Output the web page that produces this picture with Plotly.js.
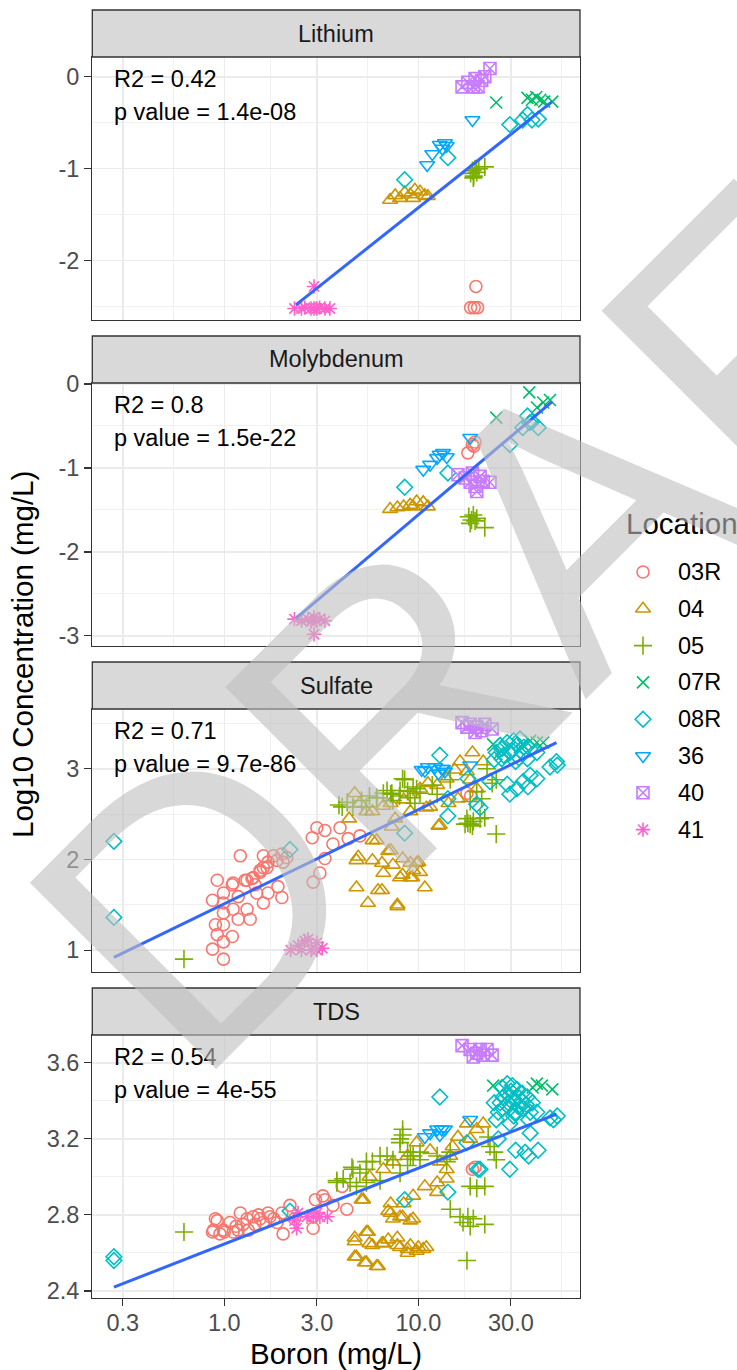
<!DOCTYPE html>
<html><head><meta charset="utf-8">
<script src="https://cdn.plot.ly/plotly-3.0.1.min.js"></script>
<style>html,body{margin:0;padding:0;background:#fff}#chart{width:737px;height:1370px}</style>
</head><body><div id="chart"></div>
<script>
// ---------- categories / labels ----------
const locations = ['03R','04','05','07R','08R','36','40','41'];
const panels = ['Lithium','Molybdenum','Sulfate','TDS'];
const r2Labels = ['R2 = 0.42','R2 = 0.8','R2 = 0.71','R2 = 0.54'];
const pLabels = ['p value = 1.4e-08','p value = 1.5e-22','p value = 9.7e-86','p value = 4e-55'];
const xTickVals = [0.3, 1, 3, 10, 30];
const xTickText = ['0.3','1.0','3.0','10.0','30.0'];
const xMinorVals = [0.5477, 1.732, 5.477, 17.32, 54.77];
const yTickVals = [[-2,-1,0],[-3,-2,-1,0],[1,2,3],[2.4,2.8,3.2,3.6]];
const yTickText = [['-2','-1','0'],['-3','-2','-1','0'],['1','2','3'],['2.4','2.8','3.2','3.6']];
const yMinorVals = [[-2.5,-1.5,-0.5],[-2.5,-1.5,-0.5],[1.5,2.5,3.5],[2.6,3.0,3.4]];
const yRanges = [[-2.645,0.215],[-3.12,0.012],[0.758,3.66],[2.363,3.746]];

// ---------- Lithium ----------
const li_03R_x = [19.8,18.6,19.4,20.2];
const li_03R_y = [-2.28,-2.51,-2.51,-2.51];
const li_04_x = [7.15,7.6,8.05,8.5,9.07,9.4,9.6,10.2,10.8,11.2];
const li_04_y = [-1.34,-1.29,-1.32,-1.26,-1.28,-1.32,-1.23,-1.25,-1.29,-1.30];
const li_05_x = [18.6,19.0,19.3,19.6,20.0,19.2,22.0,20.5];
const li_05_y = [-1.05,-1.02,-1.08,-1.0,-1.04,-1.1,-0.98,-1.0];
const li_07R_x = [25.2,36.5,38.5,40.5,42.5,44.5,49.0];
const li_07R_y = [-0.28,-0.23,-0.25,-0.22,-0.25,-0.27,-0.27];
const li_08R_x = [8.5,14.2,29.6,34.5,36.5,38.5,41.5];
const li_08R_y = [-1.12,-0.88,-0.52,-0.47,-0.41,-0.47,-0.46];
const li_36_x = [11.1,11.8,12.9,13.3,13.7,14.0,19.0];
const li_36_y = [-0.96,-0.84,-0.74,-0.78,-0.72,-0.75,-0.47];
const li_40_x = [16.8,18.0,19.6,21.2,22.0,20.3,23.4,19.2];
const li_40_y = [-0.11,-0.06,-0.02,-0.04,0.0,-0.11,0.09,-0.11];
const li_41_x = [2.3,2.5,2.6,2.8,2.9,3.0,3.1,3.3,3.5,2.9];
const li_41_y = [-2.52,-2.52,-2.51,-2.52,-2.52,-2.52,-2.51,-2.52,-2.52,-2.28];
const li_fit_x = [2.34,48.9];
const li_fit_y = [-2.48,-0.27];

// ---------- Molybdenum ----------
const mo_03R_x = [18.0,19.0,19.6,19.3];
const mo_03R_y = [-0.82,-0.72,-0.69,-0.74];
const mo_04_x = [7.15,7.8,8.4,9.07,9.4,9.8,10.6,11.2];
const mo_04_y = [-1.49,-1.47,-1.46,-1.44,-1.46,-1.40,-1.41,-1.46];
const mo_05_x = [18.2,18.8,19.2,19.6,18.5,20.0,22.0];
const mo_05_y = [-1.58,-1.62,-1.56,-1.63,-1.66,-1.60,-1.71];
const mo_07R_x = [25.2,37.3,40.9,44.0,47.7];
const mo_07R_y = [-0.40,-0.10,-0.28,-0.22,-0.19];
const mo_08R_x = [8.5,14.2,29.6,34.5,36.5,37.5,38.5,41.5];
const mo_08R_y = [-1.23,-1.06,-0.72,-0.52,-0.38,-0.46,-0.45,-0.52];
const mo_36_x = [10.6,11.5,12.5,12.9,13.4,14.0,18.5];
const mo_36_y = [-1.02,-0.96,-0.88,-0.84,-0.82,-0.87,-0.64];
const mo_40_x = [16.0,17.4,18.5,19.0,19.6,20.0,20.8,21.6,23.4];
const mo_40_y = [-1.08,-1.12,-1.17,-1.06,-1.22,-1.28,-1.10,-1.16,-1.17];
const mo_41_x = [2.3,2.5,2.7,2.8,2.9,3.0,3.1,3.3,2.9];
const mo_41_y = [-2.80,-2.82,-2.80,-2.83,-2.78,-2.82,-2.80,-2.82,-2.98];
const mo_fit_x = [2.34,48.9];
const mo_fit_y = [-2.79,-0.21];

// ---------- Sulfate ----------
const su_03R_x = [0.87,0.99,0.92,0.99,1.10,0.90,0.99,0.99,1.18,1.36,0.87,0.92,0.99,0.99,1.10,1.18,1.31,1.11,1.21,1.28,1.39,1.44,1.53,1.59,1.68,1.59,1.79,1.98,1.87,2.01,1.59,1.68,1.47,1.89,1.98,2.87,3.11,3.3,2.84,3.0,3.3,3.63,3.95,4.35,5.0,1.11,1.31,1.41,1.53,1.66,2.1,17.8,18.6];
const su_03R_y = [1.01,0.90,1.17,1.09,1.15,1.28,1.28,1.41,1.34,1.34,1.55,1.77,1.63,1.52,1.72,1.59,1.45,1.45,2.04,1.77,1.79,1.72,1.86,1.91,1.97,2.04,2.04,2.06,1.99,1.97,1.52,1.63,1.63,1.70,1.58,1.75,1.85,2.01,2.24,2.35,2.32,2.17,2.35,2.23,2.26,1.74,1.77,1.8,1.88,1.91,2.02,2.73,2.70];
const su_04_x = [4.8,5.8,4.8,6.2,5.5,7.8,10.8,6.6,7.2,5.8,9.1,10,8.05,9.1,7.4,9.4,10.2,7.0,4.9,8.3,6.5,9.3,7.8,6.5,8.3,6.1,9.8,
                 19,21.6,16.4,15.4,17.8,14,12.5,11.2,10.2,9.4,8.4,7.2,6.6,5.8,9.1,11.0,12.7,14.3,16,20,18.5,7.6,4.7,5.4,7.3,12.9,11.5,4.4,5.0];
const su_04_y = [1.99,1.99,1.69,1.66,1.52,1.50,1.69,1.85,2.1,2.21,1.96,1.97,1.8,1.8,1.94,1.88,1.86,2.09,2.03,2.01,1.96,1.8,1.48,1.66,1.83,2.21,1.96,
                 3.18,3.08,3.08,2.99,2.97,2.89,2.82,2.84,2.78,2.72,2.66,2.62,2.59,2.53,2.53,2.57,2.37,2.62,2.67,2.78,2.88,2.45,2.73,2.53,2.36,2.38,2.58,2.45,2.62];
const su_05_x = [0.62,4.05,4.6,5.1,5.4,6.1,6.6,7.3,8.05,8.5,9.4,10.2,9.07,7.4,8.3,8.8,7.2,6.1,9.8,11.8,14.6,20,22.6,24,25.2,17.8,18.5,19.2,17.4,20.8,22,25.2,18.5,21.2,3.9,4.3,5.6,6.9,8.0,9.6,12.5,18.0,19.0];
const su_05_y = [0.90,2.58,2.58,2.65,2.58,2.68,2.73,2.73,2.76,2.88,2.8,2.73,2.68,2.65,2.89,2.75,2.72,2.68,2.78,2.82,2.88,2.75,3.0,2.84,2.88,2.45,2.39,2.42,2.39,2.45,2.46,2.28,2.64,2.67,2.6,2.63,2.7,2.76,2.7,2.62,2.72,2.40,2.37];
const su_07R_x = [24.3,34.7,37.7,40.8,44];
const su_07R_y = [3.27,3.26,3.31,3.29,3.29];
const su_08R_x = [0.27,0.27,2.18,8.5,12.9,14.2,14.2,18,20.8,20,23.4,24.6,25.2,26.4,26.9,26.9,28.7,28.7,29.6,29.6,31,31.7,32.2,32.2,33.4,34.3,34.7,36.5,36.7,37.7,37.7,40.8,40.8,47.7,51.5,52,30.5,35,27.5,33];
const su_08R_y = [2.2,1.36,2.11,2.29,3.15,2.67,2.48,2.89,2.57,2.61,2.86,3.1,3.18,3.26,3.22,3.11,3.29,2.83,3.18,2.72,3.31,3.08,3.26,2.78,3.33,3.18,2.86,3.11,2.8,3.22,2.93,3.18,2.89,3.02,3.08,3.04,3.2,3.24,3.15,3.12];
const su_36_x = [10.4,11.2,12.2,13.2,13.7,12.7,18.5,10.8,13.4];
const su_36_y = [2.99,3.02,3.02,3.0,2.97,2.95,3.04,2.98,3.0];
const su_40_x = [16.8,18.5,20,21.2,22,24,17.8,19.6];
const su_40_y = [3.51,3.49,3.46,3.42,3.49,3.44,3.46,3.4];
const su_41_x = [2.2,2.4,2.6,2.8,3.0,3.2,3.0,2.7,2.5];
const su_41_y = [1.0,1.05,1.1,1.0,1.0,1.02,1.08,1.12,1.0];
const su_fit_x = [0.27,51.5];
const su_fit_y = [0.92,3.29];

// ---------- TDS ----------
const td_03R_x = [0.87,0.92,0.99,1.07,1.21,1.18,1.31,1.41,1.53,1.68,1.87,2.01,1.98,2.18,2.95,3.22,3.63,4.28,2.87,1.0,1.11,1.33,1.59,0.88,0.95,1.25,1.44,1.72,0.9,4.05,2.87,3.3,1.5,1.8,2.3,1.15,19,19.6];
const td_03R_y = [2.71,2.77,2.72,2.76,2.81,2.72,2.78,2.79,2.78,2.81,2.76,2.7,2.81,2.85,2.88,2.9,2.85,2.83,2.73,2.71,2.71,2.72,2.76,2.72,2.7,2.75,2.75,2.79,2.78,2.95,2.79,2.88,2.8,2.78,2.78,2.74,3.04,3.05];
const td_04_x = [4.7,5.5,4.8,5.4,6.2,5.8,6.5,7.0,7.8,8.05,9.1,10,11,8.8,7.0,7.4,8.3,9.4,5.2,4.7,4.7,5.3,5.4,5.1,6.1,5.6,6.6,7.8,8.8,9.8,10.6,7.2,8.05,9.1,7.2,8.4,9.4,10.8,12.5,14,12.9,16,17.8,21.6,20,15,11.5,9.8,8.8,7.4,6.6,5.6,14,12.5,14.6,18.5];
const td_04_y = [2.68,2.71,2.58,2.55,2.53,2.64,2.65,2.67,2.68,2.63,2.64,2.63,2.63,2.6,2.82,2.78,2.79,2.78,2.88,2.66,2.58,2.55,2.71,2.88,2.53,2.65,2.65,2.64,2.62,2.61,2.62,2.81,2.79,2.77,2.86,2.86,2.9,2.95,2.92,3.04,3.08,3.21,3.28,3.28,3.25,3.16,3.14,3.18,3.11,3.08,3.04,3.0,2.99,2.97,3.11,3.2];
const td_05_x = [0.62,3.8,4.1,4.55,5.0,5.4,5.8,6.35,6.9,7.4,8.05,8.3,8.8,9.4,10.2,5.4,6.35,4.8,8.05,8.3,8.05,9.1,10.2,12.5,14.6,14,8.8,14.6,18.5,20,22,16.4,17,18,18.5,19.2,22,17.8,23.4,24.6,25.2,22.9,3.8,4.6,4.45,5.4];
const td_05_y = [2.71,2.98,2.99,3.05,3.02,3.04,3.08,3.11,3.11,3.09,3.2,3.25,3.13,3.11,3.09,2.97,2.98,2.95,3.02,3.22,3.18,3.11,3.13,3.11,3.13,3.08,3.06,2.83,2.95,2.94,2.95,2.79,2.76,2.79,2.74,2.78,2.75,2.56,3.16,3.13,3.09,3.21,2.97,3.04,2.97,3.08];
const td_07R_x = [24.3,38.8,40.8,43.3,49];
const td_07R_y = [3.48,3.47,3.49,3.48,3.46];
const td_08R_x = [0.27,0.27,2.18,12.9,8.5,14.2,17.8,20.8,20.3,24.6,25.2,25.8,29.6,31.7,35.5,37,41.4,37.7,47.7,52,49.7,27,28.7,30.5,32.2,34.3,36.4,38.7,27.3,29,31,32.7,34.7,29.6,31.7,37.7,27.3,26.4,40.8,28.7,32.7,31,37,25.8,29.6,34,36,30];
const td_08R_y = [2.58,2.56,2.82,3.42,2.88,2.92,3.18,3.04,3.04,3.39,3.3,3.2,3.04,3.14,3.13,3.11,3.14,3.23,3.31,3.32,3.3,3.47,3.49,3.48,3.46,3.44,3.42,3.39,3.42,3.39,3.41,3.37,3.36,3.36,3.34,3.34,3.36,3.39,3.34,3.44,3.42,3.32,3.3,3.34,3.28,3.4,3.38,3.45];
const td_36_x = [10.8,11.5,12.5,13.2,13.7,12.9,18.5];
const td_36_y = [3.21,3.23,3.25,3.25,3.25,3.22,3.3];
const td_40_x = [16.8,18.5,20,21.6,24,20.8,19.2,22.6];
const td_40_y = [3.69,3.67,3.65,3.64,3.64,3.67,3.63,3.67];
const td_41_x = [2.3,2.4,2.67,2.87,3.11,3.4,3.0,2.36];
const td_41_y = [2.77,2.81,2.79,2.79,2.79,2.79,2.81,2.73];
const td_fit_x = [0.27,51.5];
const td_fit_y = [2.42,3.33];

// ---------- tables built from the arrays ----------
const panelData = [
  [[li_03R_x,li_03R_y],[li_04_x,li_04_y],[li_05_x,li_05_y],[li_07R_x,li_07R_y],[li_08R_x,li_08R_y],[li_36_x,li_36_y],[li_40_x,li_40_y],[li_41_x,li_41_y]],
  [[mo_03R_x,mo_03R_y],[mo_04_x,mo_04_y],[mo_05_x,mo_05_y],[mo_07R_x,mo_07R_y],[mo_08R_x,mo_08R_y],[mo_36_x,mo_36_y],[mo_40_x,mo_40_y],[mo_41_x,mo_41_y]],
  [[su_03R_x,su_03R_y],[su_04_x,su_04_y],[su_05_x,su_05_y],[su_07R_x,su_07R_y],[su_08R_x,su_08R_y],[su_36_x,su_36_y],[su_40_x,su_40_y],[su_41_x,su_41_y]],
  [[td_03R_x,td_03R_y],[td_04_x,td_04_y],[td_05_x,td_05_y],[td_07R_x,td_07R_y],[td_08R_x,td_08R_y],[td_36_x,td_36_y],[td_40_x,td_40_y],[td_41_x,td_41_y]]
];
const fits = [[li_fit_x,li_fit_y],[mo_fit_x,mo_fit_y],[su_fit_x,su_fit_y],[td_fit_x,td_fit_y]];

// ---------- styles ----------
const colors = ['#F8766D','#CD9600','#7CAE00','#00BE67','#00BFC4','#00A9FF','#C77CFF','#FF61CC'];
const symbols = ['circle-open','triangle-up-open','cross-thin-open','x-thin-open','diamond-open','triangle-down-open','square-x-open','asterisk-open'];
const sizes = [12,13,13,12,12,13,12,12];
const FONT = 'Liberation Sans, Arial, Helvetica, sans-serif';
const W = 737, H = 1370;
const PX_L = 92.3, PX_R = 580;
const panelTop = [57, 383, 709, 1035];
const PLOT_H = 263, STRIP_H = 47;
const fx = px => px / W;
const fy = py => 1 - py / H;

const traces = [];
const layout = {
  width: W, height: H,
  margin: {l:0, r:0, t:0, b:0},
  paper_bgcolor: '#FFFFFF', plot_bgcolor: 'rgba(0,0,0,0)',
  showlegend: false,
  font: {family: FONT, color: '#000000'},
  shapes: [], annotations: []
};

panels.forEach((name, i) => {
  const k = i + 1;
  const xa = 'xaxis' + (k > 1 ? k : ''), ya = 'yaxis' + (k > 1 ? k : '');
  const xr = 'x' + (k > 1 ? k : ''), yr = 'y' + (k > 1 ? k : '');
  const top = panelTop[i];
  layout[xa] = {
    domain: [fx(PX_L), fx(PX_R)], anchor: yr, type: 'log',
    range: [-0.680, 1.833],
    tickmode: 'array', tickvals: xTickVals, ticktext: xTickText,
    showticklabels: i === 3, ticks: i === 3 ? 'outside' : '',
    ticklen: 7, tickwidth: 1.1, tickcolor: '#333333', ticklabelstandoff: -4,
    tickfont: {family: FONT, size: 23.5, color: '#4D4D4D'},
    showgrid: true, gridcolor: '#EBEBEB', gridwidth: 1.5,
    minor: {tickmode: 'array', tickvals: xMinorVals, showgrid: true, gridcolor: '#EFEFEF', gridwidth: 0.9, ticks: ''},
    showline: true, mirror: true, linecolor: '#333333', linewidth: 1.3,
    zeroline: false, fixedrange: true
  };
  layout[ya] = {
    domain: [fy(top + PLOT_H), fy(top)], anchor: xr,
    range: yRanges[i],
    tickmode: 'array', tickvals: yTickVals[i], ticktext: yTickText[i],
    ticks: 'outside', ticklen: 7, tickwidth: 1.1, tickcolor: '#333333',
    tickfont: {family: FONT, size: 23.5, color: '#4D4D4D'},
    showgrid: true, gridcolor: '#EBEBEB', gridwidth: 1.5,
    minor: {tickmode: 'array', tickvals: yMinorVals[i], showgrid: true, gridcolor: '#EFEFEF', gridwidth: 0.9, ticks: ''},
    showline: true, mirror: true, linecolor: '#333333', linewidth: 1.3,
    zeroline: false, fixedrange: true
  };
  locations.forEach((loc, j) => {
    const [xs, ys] = panelData[i][j];
    traces.push({
      type: 'scatter', mode: 'markers', x: xs, y: ys, xaxis: xr, yaxis: yr,
      name: loc, hoverinfo: 'skip',
      marker: {symbol: symbols[j], size: sizes[j], color: colors[j], line: {color: colors[j], width: 1.6}}
    });
  });
  traces.push({
    type: 'scatter', mode: 'lines', x: fits[i][0], y: fits[i][1], xaxis: xr, yaxis: yr,
    hoverinfo: 'skip', line: {color: '#3366FF', width: 3}
  });
  // strip
  layout.shapes.push({
    type: 'rect', xref: 'paper', yref: 'paper',
    x0: fx(PX_L), x1: fx(PX_R), y0: fy(top), y1: fy(top - STRIP_H),
    fillcolor: '#D9D9D9', line: {color: '#333333', width: 1.3}
  });
  layout.annotations.push({
    xref: 'paper', yref: 'paper', x: fx((PX_L + PX_R) / 2), y: fy(top - STRIP_H / 2),
    text: name, showarrow: false, xanchor: 'center', yanchor: 'middle',
    font: {family: FONT, size: 23.5, color: '#1A1A1A'}
  });
  layout.annotations.push({
    xref: 'paper', yref: 'paper', x: fx(112), y: fy(top + 22),
    text: r2Labels[i], showarrow: false, xanchor: 'left', yanchor: 'middle',
    font: {family: FONT, size: 23.5, color: '#000000'}
  });
  layout.annotations.push({
    xref: 'paper', yref: 'paper', x: fx(112), y: fy(top + 55),
    text: pLabels[i], showarrow: false, xanchor: 'left', yanchor: 'middle',
    font: {family: FONT, size: 23.5, color: '#000000'}
  });
});

// legend drawn on a hidden pixel-space axis
layout.xaxis5 = {domain: [0, 1], range: [0, W], visible: false, fixedrange: true, anchor: 'y5'};
layout.yaxis5 = {domain: [0, 1], range: [H, 0], visible: false, fixedrange: true, anchor: 'x5'};
const LEG_X = 643, LEG_Y0 = 572, LEG_DY = 36.8;
locations.forEach((loc, j) => {
  traces.push({
    type: 'scatter', mode: 'markers', x: [LEG_X], y: [LEG_Y0 + LEG_DY * j], xaxis: 'x5', yaxis: 'y5',
    hoverinfo: 'skip', cliponaxis: false,
    marker: {symbol: symbols[j], size: sizes[j], color: colors[j], line: {color: colors[j], width: 1.6}}
  });
  layout.annotations.push({
    xref: 'paper', yref: 'paper', x: fx(676), y: fy(LEG_Y0 + LEG_DY * j),
    text: loc, showarrow: false, xanchor: 'left', yanchor: 'middle',
    font: {family: FONT, size: 23.5, color: '#000000'}
  });
});
layout.annotations.push({
  xref: 'paper', yref: 'paper', x: fx(624), y: fy(523),
  text: 'Location', showarrow: false, xanchor: 'left', yanchor: 'middle',
  font: {family: FONT, size: 29.5, color: '#000000'}
});

// axis titles
layout.annotations.push({
  xref: 'paper', yref: 'paper', x: fx(22), y: fy(655),
  text: 'Log10 Concentration (mg/L)', showarrow: false, textangle: -90,
  xanchor: 'center', yanchor: 'middle',
  font: {family: FONT, size: 29.5, color: '#000000'}
});
layout.annotations.push({
  xref: 'paper', yref: 'paper', x: fx((PX_L + PX_R) / 2), y: fy(1353),
  text: 'Boron (mg/L)', showarrow: false, xanchor: 'center', yanchor: 'middle',
  font: {family: FONT, size: 29.5, color: '#000000'}
});

// watermark (runs off the page, as in the reference)
layout.annotations.push({
  xref: 'paper', yref: 'paper', x: fx(551), y: fy(546),
  text: 'DRAFT', showarrow: false, textangle: -45,
  xanchor: 'center', yanchor: 'middle',
  font: {family: FONT, size: 383, color: 'rgba(190,190,190,0.6)'}
});

Plotly.newPlot('chart', traces, layout, {displayModeBar: false, staticPlot: true});
</script></body></html>
